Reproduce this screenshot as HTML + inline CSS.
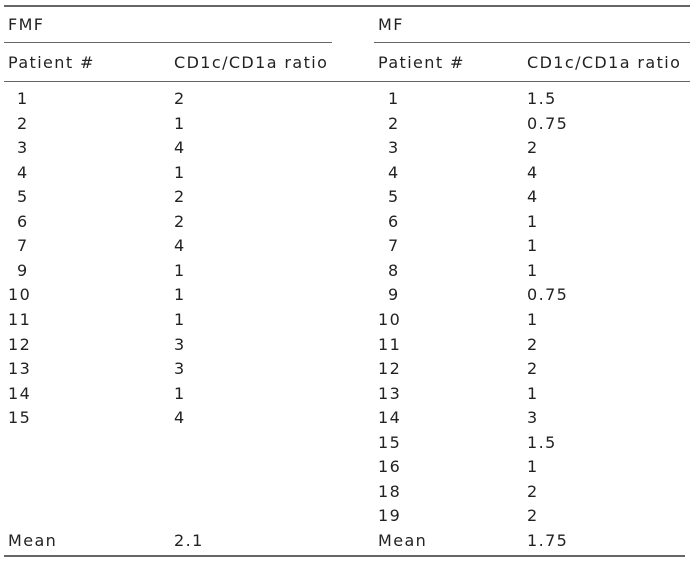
<!DOCTYPE html>
<html><head><meta charset="utf-8"><style>
body{margin:0;background:#fff;width:700px;height:567px;position:relative;overflow:hidden;font-family:"DejaVu Sans","Liberation Sans",sans-serif;font-size:16px;letter-spacing:1.4px;color:#222}
.t{position:absolute;white-space:nowrap;line-height:18px}
.l{position:absolute;background:#666}
</style></head><body>
<div class="l" style="left:4px;top:5px;width:686px;height:2px"></div>
<div class="l" style="left:4px;top:42px;width:328px;height:1px"></div>
<div class="l" style="left:374px;top:42px;width:316px;height:1px"></div>
<div class="l" style="left:4px;top:81px;width:686px;height:1px"></div>
<div class="l" style="left:4px;top:555px;width:681px;height:2px"></div>
<div id="c"></div>
<script>
const fmfIds=["1","2","3","4","5","6","7","9","10","11","12","13","14","15"];
const fmfVals=["2","1","4","1","2","2","4","1","1","1","3","3","1","4"];
const mfIds=["1","2","3","4","5","6","7","8","9","10","11","12","13","14","15","16","18","19"];
const mfVals=["1.5","0.75","2","4","4","1","1","1","0.75","1","2","2","1","3","1.5","1","2","2"];
const c=document.getElementById('c');
function t(x,y,s,n){const d=document.createElement('div');d.className='t';d.style.left=x+'px';d.style.top=(y-9)+'px';d.textContent=s;


c.appendChild(d);}
t(8,25,"FMF","fmf-title");t(378,25,"MF","mf-title");
t(8,63,"Patient #","fmf-patient-header");t(174,63,"CD1c/CD1a ratio","fmf-ratio-header");
t(378,63,"Patient #","mf-patient-header");t(527,63,"CD1c/CD1a ratio","mf-ratio-header");
const y0=99,dy=24.55;
fmfIds.forEach((p,i)=>{const y=y0+i*dy;t(p.length>1?8:17,y,p,"fmf-patient");t(174,y,fmfVals[i],"fmf-ratio");});
mfIds.forEach((p,i)=>{const y=y0+i*dy;t(p.length>1?378:388,y,p,"mf-patient");t(527,y,mfVals[i],"mf-ratio");});
const ym=y0+18*dy;
t(8,ym,"Mean","fmf-mean-label");t(174,ym,"2.1","fmf-mean-value");
t(378,ym,"Mean","mf-mean-label");t(527,ym,"1.75","mf-mean-value");
</script>
</body></html>
